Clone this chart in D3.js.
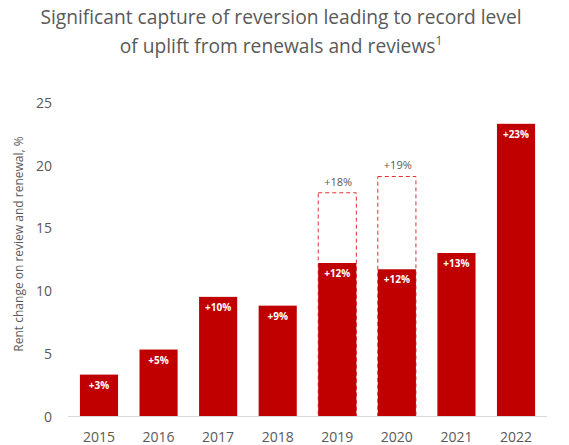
<!DOCTYPE html>
<html>
<head>
<meta charset="utf-8">
<script src="https://cdn.jsdelivr.net/npm/d3@7"></script>
<style>
  body { margin: 0; background: #fff; }
  svg { display: block; font-family: "Open Sans", sans-serif; }
</style>
</head>
<body>
<svg id="chart" width="569" height="445"></svg>
<script>
// data
const years = ["2015", "2016", "2017", "2018", "2019", "2020", "2021", "2022"];
const uplift = [3.3, 5.3, 9.5, 8.8, 12.2, 11.7, 13.0, 23.3];
const labels = ["+3%", "+5%", "+10%", "+9%", "+12%", "+12%", "+13%", "+23%"];
// dashed "capture of reversion" outlines
const reversionYears = ["2019", "2020"];
const reversionValues = [17.8, 19.1];
const reversionLabels = ["+18%", "+19%"];
const yTicks = [0, 5, 10, 15, 20, 25];

const red = "#c00000";
const grey = "#595959";

let svg = d3.select("#chart");

let x = d3.scaleBand()
    .domain(years)
    .range([68, 547])
    .paddingInner(0.36)
    .paddingOuter(0.2);

let y = d3.scaleLinear()
    .domain([0, 25])
    .range([416, 102.5]);

// title
svg.append("text")
    .attr("x", 281)
    .attr("y", 24)
    .attr("text-anchor", "middle")
    .attr("font-size", 19.2)
    .attr("fill", grey)
    .text("Significant capture of reversion leading to record level");

let t2 = svg.append("text")
    .attr("x", 281)
    .attr("y", 53)
    .attr("text-anchor", "middle")
    .attr("font-size", 19.2)
    .attr("fill", grey);
t2.append("tspan").text("of uplift from renewals and reviews");
t2.append("tspan").attr("font-size", 12).attr("dy", -8).text("1");

// y axis tick labels
svg.append("g")
    .selectAll("text")
    .data(yTicks)
    .join("text")
    .attr("x", 52)
    .attr("y", d => y(d))
    .attr("text-anchor", "end")
    .attr("dominant-baseline", "central")
    .attr("font-size", 14)
    .attr("fill", grey)
    .text(d => d);

// y axis title
svg.append("text")
    .attr("transform", "translate(23," + 244 + ") rotate(-90)")
    .attr("text-anchor", "middle")
    .attr("font-size", 12)
    .attr("fill", grey)
    .text("Rent change on review and renewal, %");

// dashed outlines
svg.append("g")
    .selectAll("rect")
    .data(reversionYears)
    .join("rect")
    .attr("x", d => x(d))
    .attr("width", x.bandwidth())
    .attr("y", (d, i) => y(reversionValues[i]))
    .attr("height", (d, i) => y(0) - y(reversionValues[i]))
    .attr("fill", "none")
    .attr("stroke", "#e03030")
    .attr("stroke-width", 1)
    .attr("stroke-dasharray", "4,3");

svg.append("g")
    .selectAll("text")
    .data(reversionYears)
    .join("text")
    .attr("x", d => x(d) + 6)
    .attr("y", (d, i) => y(reversionValues[i]) - 7)
    .attr("font-size", 11)
    .attr("fill", grey)
    .text((d, i) => reversionLabels[i]);

// bars
svg.append("g")
    .selectAll("rect")
    .data(years)
    .join("rect")
    .attr("x", d => x(d))
    .attr("width", x.bandwidth())
    .attr("y", (d, i) => y(uplift[i]))
    .attr("height", (d, i) => y(0) - y(uplift[i]))
    .attr("fill", red);

svg.append("g")
    .selectAll("text")
    .data(years)
    .join("text")
    .attr("x", d => x(d) + x.bandwidth() / 2)
    .attr("y", (d, i) => y(uplift[i]) + 14)
    .attr("text-anchor", "middle")
    .attr("font-size", 10)
    .attr("font-weight", "bold")
    .attr("fill", "#fff")
    .text((d, i) => labels[i]);

// baseline
svg.append("line")
    .attr("x1", 68)
    .attr("x2", 547)
    .attr("y1", y(0) + 0.5)
    .attr("y2", y(0) + 0.5)
    .attr("stroke", "#d9d9d9");

// year labels
svg.append("g")
    .selectAll("text")
    .data(years)
    .join("text")
    .attr("x", d => x(d) + x.bandwidth() / 2)
    .attr("y", 436)
    .attr("text-anchor", "middle")
    .attr("dominant-baseline", "central")
    .attr("font-size", 14)
    .attr("fill", grey)
    .text(d => d);
</script>
</body>
</html>
